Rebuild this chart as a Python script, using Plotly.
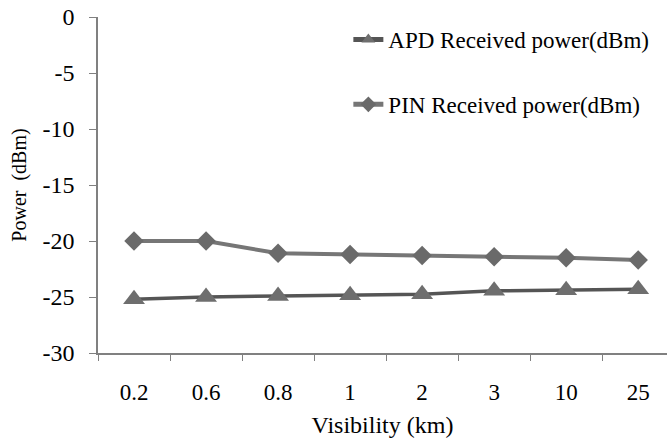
import plotly.graph_objects as go

visibility = ["0.2", "0.6", "0.8", "1", "2", "3", "10", "25"]
apd_power = [-25.2, -25.0, -24.9, -24.85, -24.75, -24.45, -24.4, -24.3]
pin_power = [-20.0, -20.0, -21.1, -21.2, -21.3, -21.4, -21.5, -21.7]
y_ticks = [0, -5, -10, -15, -20, -25, -30]

FONT = "Liberation Serif, Times New Roman, serif"

fig = go.Figure()
fig.add_trace(go.Scatter(
    x=visibility, y=apd_power, mode="lines+markers",
    name="APD Received power(dBm)", legendgroup="apd",
    line=dict(color="#555555", width=3.5),
    marker=dict(symbol="triangle-up", size=19, color="#6e6e6e"),
))
fig.add_trace(go.Scatter(
    x=visibility, y=pin_power, mode="lines+markers",
    name="PIN Received power(dBm)", legendgroup="pin",
    line=dict(color="#767676", width=4),
    marker=dict(symbol="diamond", size=15, color="#6a6a6a"),
))

fig.update_layout(
    width=667, height=443,
    margin=dict(l=98, r=0, t=17, b=90),
    paper_bgcolor="white", plot_bgcolor="white",
    font=dict(family=FONT, size=22, color="black"),
    showlegend=True,
    legend=dict(
        x=0.44, y=0.997, xanchor="left", yanchor="top",
        font=dict(family=FONT, size=23, color="black"),
        tracegroupgap=32, bgcolor="rgba(0,0,0,0)",
        itemsizing="constant",
    ),
)
fig.update_xaxes(
    type="category", range=[-0.5, 7.4],
    showline=True, linecolor="#808080", linewidth=1.5,
    ticks="outside", tickson="boundaries", ticklen=6, tickcolor="#808080",
    showgrid=False, zeroline=False,
    tickfont=dict(family=FONT, size=23),
    ticklabelstandoff=18,
    title=dict(text="Visibility (km)", font=dict(family=FONT, size=24), standoff=12),
)
fig.update_yaxes(
    range=[-30, 0], tickvals=y_ticks, ticktext=[str(v) for v in y_ticks],
    showline=True, linecolor="#808080", linewidth=1.5,
    ticks="outside", ticklen=7, tickcolor="#808080",
    showgrid=False, zeroline=False,
    tickfont=dict(family=FONT, size=24),
    ticklabelstandoff=10,
    title=dict(text="Power  (dBm)", font=dict(family=FONT, size=20), standoff=10),
)

fig.write_html("out.html")
